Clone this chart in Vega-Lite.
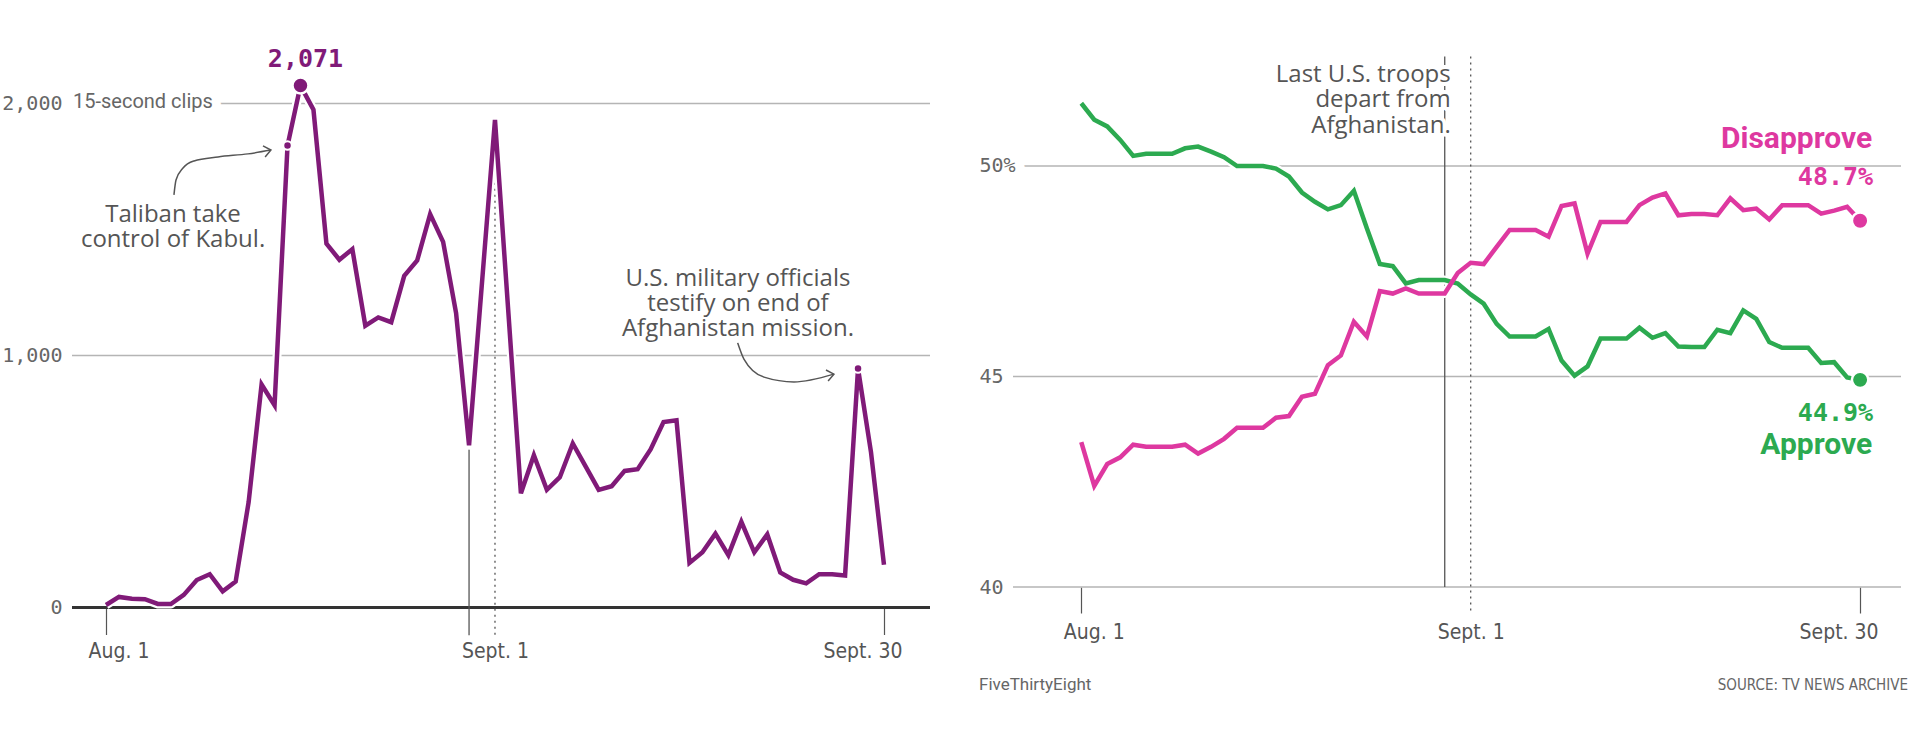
{
  "$schema": "https://vega.github.io/schema/vega-lite/v6.json",
  "background": "white",
  "padding": {"left": 1, "top": 45, "right": 0, "bottom": 0},
  "spacing": 47,
  "config": {"view": {"stroke": null}},
  "datasets": {
    "clips": [
      {"day": 0, "clips": 10}, {"day": 1, "clips": 42}, {"day": 2, "clips": 35}, {"day": 3, "clips": 33},
      {"day": 4, "clips": 14}, {"day": 5, "clips": 14}, {"day": 6, "clips": 50}, {"day": 7, "clips": 109},
      {"day": 8, "clips": 132}, {"day": 9, "clips": 64}, {"day": 10, "clips": 103}, {"day": 11, "clips": 418},
      {"day": 12, "clips": 885}, {"day": 13, "clips": 803}, {"day": 14, "clips": 1833}, {"day": 15, "clips": 2071},
      {"day": 16, "clips": 1975}, {"day": 17, "clips": 1444}, {"day": 18, "clips": 1380}, {"day": 19, "clips": 1422},
      {"day": 20, "clips": 1118}, {"day": 21, "clips": 1151}, {"day": 22, "clips": 1132}, {"day": 23, "clips": 1316},
      {"day": 24, "clips": 1377}, {"day": 25, "clips": 1561}, {"day": 26, "clips": 1451}, {"day": 27, "clips": 1168},
      {"day": 28, "clips": 644}, {"day": 29, "clips": 1290}, {"day": 30, "clips": 1935}, {"day": 31, "clips": 1195},
      {"day": 32, "clips": 453}, {"day": 33, "clips": 604}, {"day": 34, "clips": 467}, {"day": 35, "clips": 517},
      {"day": 36, "clips": 651}, {"day": 37, "clips": 559}, {"day": 38, "clips": 467}, {"day": 39, "clips": 481},
      {"day": 40, "clips": 542}, {"day": 41, "clips": 549}, {"day": 42, "clips": 627}, {"day": 43, "clips": 736},
      {"day": 44, "clips": 743}, {"day": 45, "clips": 177}, {"day": 46, "clips": 219}, {"day": 47, "clips": 293},
      {"day": 48, "clips": 208}, {"day": 49, "clips": 340}, {"day": 50, "clips": 219}, {"day": 51, "clips": 290},
      {"day": 52, "clips": 139}, {"day": 53, "clips": 110}, {"day": 54, "clips": 96}, {"day": 55, "clips": 132},
      {"day": 56, "clips": 132}, {"day": 57, "clips": 127}, {"day": 58, "clips": 948}, {"day": 59, "clips": 616},
      {"day": 60, "clips": 170}
    ],
    "approval": [
      {"day": 0, "series": "Approve", "pct": 51.49}, {"day": 1, "series": "Approve", "pct": 51.10},
      {"day": 2, "series": "Approve", "pct": 50.94}, {"day": 3, "series": "Approve", "pct": 50.62},
      {"day": 4, "series": "Approve", "pct": 50.24}, {"day": 5, "series": "Approve", "pct": 50.29},
      {"day": 6, "series": "Approve", "pct": 50.29}, {"day": 7, "series": "Approve", "pct": 50.29},
      {"day": 8, "series": "Approve", "pct": 50.42}, {"day": 9, "series": "Approve", "pct": 50.46},
      {"day": 10, "series": "Approve", "pct": 50.34}, {"day": 11, "series": "Approve", "pct": 50.21},
      {"day": 12, "series": "Approve", "pct": 50.00}, {"day": 13, "series": "Approve", "pct": 50.00},
      {"day": 14, "series": "Approve", "pct": 50.00}, {"day": 15, "series": "Approve", "pct": 49.94},
      {"day": 16, "series": "Approve", "pct": 49.75}, {"day": 17, "series": "Approve", "pct": 49.37},
      {"day": 18, "series": "Approve", "pct": 49.15}, {"day": 19, "series": "Approve", "pct": 48.97},
      {"day": 20, "series": "Approve", "pct": 49.07}, {"day": 21, "series": "Approve", "pct": 49.41},
      {"day": 22, "series": "Approve", "pct": 48.52}, {"day": 23, "series": "Approve", "pct": 47.67},
      {"day": 24, "series": "Approve", "pct": 47.62}, {"day": 25, "series": "Approve", "pct": 47.21},
      {"day": 26, "series": "Approve", "pct": 47.29}, {"day": 27, "series": "Approve", "pct": 47.29},
      {"day": 28, "series": "Approve", "pct": 47.29}, {"day": 29, "series": "Approve", "pct": 47.21},
      {"day": 30, "series": "Approve", "pct": 46.95}, {"day": 31, "series": "Approve", "pct": 46.73},
      {"day": 32, "series": "Approve", "pct": 46.25}, {"day": 33, "series": "Approve", "pct": 45.95},
      {"day": 34, "series": "Approve", "pct": 45.95}, {"day": 35, "series": "Approve", "pct": 45.95},
      {"day": 36, "series": "Approve", "pct": 46.13}, {"day": 37, "series": "Approve", "pct": 45.38},
      {"day": 38, "series": "Approve", "pct": 45.02}, {"day": 39, "series": "Approve", "pct": 45.24},
      {"day": 40, "series": "Approve", "pct": 45.90}, {"day": 41, "series": "Approve", "pct": 45.90},
      {"day": 42, "series": "Approve", "pct": 45.90}, {"day": 43, "series": "Approve", "pct": 46.16},
      {"day": 44, "series": "Approve", "pct": 45.92}, {"day": 45, "series": "Approve", "pct": 46.03},
      {"day": 46, "series": "Approve", "pct": 45.71}, {"day": 47, "series": "Approve", "pct": 45.70},
      {"day": 48, "series": "Approve", "pct": 45.70}, {"day": 49, "series": "Approve", "pct": 46.11},
      {"day": 50, "series": "Approve", "pct": 46.03}, {"day": 51, "series": "Approve", "pct": 46.57},
      {"day": 52, "series": "Approve", "pct": 46.37}, {"day": 53, "series": "Approve", "pct": 45.82},
      {"day": 54, "series": "Approve", "pct": 45.68}, {"day": 55, "series": "Approve", "pct": 45.68},
      {"day": 56, "series": "Approve", "pct": 45.68}, {"day": 57, "series": "Approve", "pct": 45.32},
      {"day": 58, "series": "Approve", "pct": 45.34}, {"day": 59, "series": "Approve", "pct": 44.98},
      {"day": 60, "series": "Approve", "pct": 44.92},
      {"day": 0, "series": "Disapprove", "pct": 43.44}, {"day": 1, "series": "Disapprove", "pct": 42.40},
      {"day": 2, "series": "Disapprove", "pct": 42.92}, {"day": 3, "series": "Disapprove", "pct": 43.08},
      {"day": 4, "series": "Disapprove", "pct": 43.38}, {"day": 5, "series": "Disapprove", "pct": 43.33},
      {"day": 6, "series": "Disapprove", "pct": 43.33}, {"day": 7, "series": "Disapprove", "pct": 43.33},
      {"day": 8, "series": "Disapprove", "pct": 43.38}, {"day": 9, "series": "Disapprove", "pct": 43.17},
      {"day": 10, "series": "Disapprove", "pct": 43.33}, {"day": 11, "series": "Disapprove", "pct": 43.52},
      {"day": 12, "series": "Disapprove", "pct": 43.78}, {"day": 13, "series": "Disapprove", "pct": 43.78},
      {"day": 14, "series": "Disapprove", "pct": 43.78}, {"day": 15, "series": "Disapprove", "pct": 44.02},
      {"day": 16, "series": "Disapprove", "pct": 44.06}, {"day": 17, "series": "Disapprove", "pct": 44.52},
      {"day": 18, "series": "Disapprove", "pct": 44.59}, {"day": 19, "series": "Disapprove", "pct": 45.27},
      {"day": 20, "series": "Disapprove", "pct": 45.50}, {"day": 21, "series": "Disapprove", "pct": 46.30},
      {"day": 22, "series": "Disapprove", "pct": 45.95}, {"day": 23, "series": "Disapprove", "pct": 47.03},
      {"day": 24, "series": "Disapprove", "pct": 46.97}, {"day": 25, "series": "Disapprove", "pct": 47.09},
      {"day": 26, "series": "Disapprove", "pct": 46.97}, {"day": 27, "series": "Disapprove", "pct": 46.97},
      {"day": 28, "series": "Disapprove", "pct": 46.97}, {"day": 29, "series": "Disapprove", "pct": 47.46},
      {"day": 30, "series": "Disapprove", "pct": 47.70}, {"day": 31, "series": "Disapprove", "pct": 47.67},
      {"day": 32, "series": "Disapprove", "pct": 48.08}, {"day": 33, "series": "Disapprove", "pct": 48.48},
      {"day": 34, "series": "Disapprove", "pct": 48.48}, {"day": 35, "series": "Disapprove", "pct": 48.48},
      {"day": 36, "series": "Disapprove", "pct": 48.32}, {"day": 37, "series": "Disapprove", "pct": 49.05},
      {"day": 38, "series": "Disapprove", "pct": 49.11}, {"day": 39, "series": "Disapprove", "pct": 47.92},
      {"day": 40, "series": "Disapprove", "pct": 48.67}, {"day": 41, "series": "Disapprove", "pct": 48.67},
      {"day": 42, "series": "Disapprove", "pct": 48.67}, {"day": 43, "series": "Disapprove", "pct": 49.07},
      {"day": 44, "series": "Disapprove", "pct": 49.25}, {"day": 45, "series": "Disapprove", "pct": 49.35},
      {"day": 46, "series": "Disapprove", "pct": 48.83}, {"day": 47, "series": "Disapprove", "pct": 48.86},
      {"day": 48, "series": "Disapprove", "pct": 48.86}, {"day": 49, "series": "Disapprove", "pct": 48.83},
      {"day": 50, "series": "Disapprove", "pct": 49.23}, {"day": 51, "series": "Disapprove", "pct": 48.95},
      {"day": 52, "series": "Disapprove", "pct": 48.99}, {"day": 53, "series": "Disapprove", "pct": 48.73},
      {"day": 54, "series": "Disapprove", "pct": 49.07}, {"day": 55, "series": "Disapprove", "pct": 49.07},
      {"day": 56, "series": "Disapprove", "pct": 49.07}, {"day": 57, "series": "Disapprove", "pct": 48.87},
      {"day": 58, "series": "Disapprove", "pct": 48.94}, {"day": 59, "series": "Disapprove", "pct": 49.03},
      {"day": 60, "series": "Disapprove", "pct": 48.70}
    ]
  },
  "hconcat": [
    {
      "width": 858,
      "height": 562.5,
      "layer": [
        {
          "data": {"values": [{"clips": 1000}, {"clips": 2000}]},
          "mark": {"type": "rule", "color": "#b5b5b5", "strokeWidth": 1.5},
          "encoding": {
            "y": {
              "field": "clips", "type": "quantitative",
              "scale": {"domain": [0, 2232], "nice": false},
              "axis": {
                "title": null, "values": [0, 1000, 2000], "format": ",d",
                "domain": false, "ticks": false, "tickSize": 0, "grid": false, "zindex": 1,
                "labelFont": "DejaVu Sans Mono", "labelFontSize": 20, "labelColor": "#666", "labelPadding": 10
              }
            }
          }
        },
        {
          "data": {"values": [{"clips": 0}]},
          "mark": {"type": "rule", "color": "#333", "strokeWidth": 3},
          "encoding": {
            "y": {"field": "clips", "type": "quantitative", "scale": {"domain": [0, 2232], "nice": false}}
          }
        },
        {
          "data": {"name": "clips"},
          "encoding": {
            "x": {
              "field": "day", "type": "quantitative",
              "scale": {"domain": [-2.622, 63.55], "nice": false, "zero": false},
              "axis": {
                "title": null, "values": [0, 30, 60],
                "labelExpr": "datum.value == 0 ? 'Aug. 1' : datum.value == 30 ? 'Sept. 1' : 'Sept. 30'",
                "domain": false, "grid": false, "tickSize": 27, "tickColor": "#555", "tickWidth": 1.2,
                "tickOpacity": {"condition": {"test": "datum.value == 30", "value": 0}, "value": 1},
                "labelFont": "DejaVu Sans Condensed", "labelFontSize": 21, "labelColor": "#555",
                "labelPadding": 6, "labelFlush": 100, "labelFlushOffset": 18
              }
            },
            "y": {
              "field": "clips", "type": "quantitative",
              "scale": {"domain": [0, 2232], "nice": false},
              "axis": {
                "title": null, "values": [0, 1000, 2000], "format": ",d",
                "domain": false, "ticks": false, "tickSize": 0, "grid": false, "zindex": 1,
                "labelFont": "DejaVu Sans Mono", "labelFontSize": 20, "labelColor": "#666", "labelPadding": 10
              }
            }
          },
          "layer": [
            {
              "data": {"values": [{"day": 28, "clips": 630, "clips2": -110}]},
              "mark": {"type": "rule", "color": "#555", "strokeWidth": 1.3},
              "encoding": {"y2": {"field": "clips2"}}
            },
            {
              "data": {"values": [{"day": 30, "clips": 1900, "clips2": -118}]},
              "mark": {"type": "rule", "color": "#555", "strokeWidth": 1.3, "strokeDash": [2, 4]},
              "encoding": {"y2": {"field": "clips2"}}
            },
            {
              "data": {"values": [{"day": -2.545, "clips": 2000, "note": "15-second clips"}]},
              "mark": {"type": "text", "align": "left", "baseline": "middle", "dy": -1, "font": "Roboto", "fontSize": 20,
                       "color": "white", "stroke": "white", "strokeWidth": 18, "strokeJoin": "round"},
              "encoding": {"text": {"field": "note"}}
            },
            {
              "data": {"values": [{"day": -2.545, "clips": 2000, "note": "15-second clips"}]},
              "mark": {"type": "text", "align": "left", "baseline": "middle", "dy": -1, "font": "Roboto", "fontSize": 20, "color": "#666"},
              "encoding": {"text": {"field": "note"}}
            },
            {
              "data": {"values": [
                {"arrow": "kabul", "day": 5.24, "clips": 1637}, {"arrow": "kabul", "day": 5.40, "clips": 1696},
                {"arrow": "kabul", "day": 5.94, "clips": 1744}, {"arrow": "kabul", "day": 6.79, "clips": 1772},
                {"arrow": "kabul", "day": 8.64, "clips": 1788}, {"arrow": "kabul", "day": 10.95, "clips": 1800},
                {"arrow": "kabul", "day": 12.72, "clips": 1815},
                {"arrow": "testify", "day": 48.72, "clips": 1050}, {"arrow": "testify", "day": 49.2, "clips": 986},
                {"arrow": "testify", "day": 50.75, "clips": 914}, {"arrow": "testify", "day": 53.06, "clips": 895},
                {"arrow": "testify", "day": 56.14, "clips": 926}
              ]},
              "mark": {"type": "line", "color": "#555", "strokeWidth": 1.5, "interpolate": "monotone"},
              "encoding": {"detail": {"field": "arrow"}}
            },
            {
              "data": {"values": [{"day": 12.72, "clips": 1815}, {"day": 56.14, "clips": 926}]},
              "mark": {"type": "point", "shape": "M -1 -0.8 L 0 0 L -1 0.8", "filled": false, "color": "#555",
                       "strokeWidth": 1.5, "size": 196, "angle": -11, "opacity": 1}
            },
            {
              "data": {"values": [
                {"day": 5.17, "clips": 1530, "note": "Taliban take\ncontrol of Kabul."},
                {"day": 48.74, "clips": 1276, "note": "U.S. military officials\ntestify on end of\nAfghanistan mission."}
              ]},
              "mark": {"type": "text", "align": "center", "baseline": "alphabetic", "lineBreak": "\n", "lineHeight": 25,
                       "font": "Open Sans", "fontSize": 24, "color": "#555"},
              "encoding": {"text": {"field": "note"}}
            },
            {"mark": {"type": "line", "color": "white", "strokeWidth": 9, "strokeJoin": "round"}},
            {"mark": {"type": "line", "color": "#801a78", "strokeWidth": 4.5}},
            {
              "transform": [{"filter": "datum.day == 14 || datum.day == 58"}],
              "mark": {"type": "point", "filled": true, "color": "#801a78", "size": 72, "stroke": "white", "strokeWidth": 2, "opacity": 1}
            },
            {
              "transform": [{"filter": "datum.day == 15"}],
              "mark": {"type": "point", "filled": true, "color": "#801a78", "size": 256, "stroke": "white", "strokeWidth": 2.5, "opacity": 1}
            },
            {
              "transform": [{"filter": "datum.day == 15"}],
              "mark": {"type": "text", "align": "center", "baseline": "alphabetic", "dx": 5, "dy": -19,
                       "font": "DejaVu Sans Mono", "fontWeight": "bold", "fontSize": 25, "color": "#801a78"},
              "encoding": {"text": {"field": "clips", "type": "quantitative", "format": ",d"}}
            }
          ]
        }
      ]
    },
    {
      "width": 888,
      "height": 542,
      "layer": [
        {
          "data": {"values": [{"pct": 40}, {"pct": 45}, {"pct": 50}]},
          "mark": {"type": "rule", "color": "#b5b5b5", "strokeWidth": 1.5},
          "encoding": {
            "y": {
              "field": "pct", "type": "quantitative",
              "scale": {"domain": [40, 52.874], "nice": false, "zero": false},
              "axis": {
                "title": null, "values": [40, 45, 50],
                "labelExpr": "datum.value == 50 ? '50%' : datum.label",
                "domain": false, "ticks": false, "tickSize": 0, "grid": false, "zindex": 1,
                "labelAlign": "left", "labelPadding": 34,
                "labelFont": "DejaVu Sans Mono", "labelFontSize": 20, "labelColor": "#666"
              }
            }
          }
        },
        {
          "data": {"name": "approval"},
          "encoding": {
            "x": {
              "field": "day", "type": "quantitative",
              "scale": {"domain": [-5.26, 63.15], "nice": false, "zero": false},
              "axis": {
                "title": null, "values": [0, 30, 60],
                "labelExpr": "datum.value == 0 ? 'Aug. 1' : datum.value == 30 ? 'Sept. 1' : 'Sept. 30'",
                "domain": false, "grid": false, "tickSize": 26, "tickColor": "#555", "tickWidth": 1.2,
                "tickOpacity": {"condition": {"test": "datum.value == 30", "value": 0}, "value": 1},
                "labelFont": "DejaVu Sans Condensed", "labelFontSize": 21, "labelColor": "#555",
                "labelPadding": 8, "labelFlush": 100, "labelFlushOffset": 18
              }
            },
            "y": {
              "field": "pct", "type": "quantitative",
              "scale": {"domain": [40, 52.874], "nice": false, "zero": false},
              "axis": {
                "title": null, "values": [40, 45, 50],
                "labelExpr": "datum.value == 50 ? '50%' : datum.label",
                "domain": false, "ticks": false, "tickSize": 0, "grid": false, "zindex": 1,
                "labelAlign": "left", "labelPadding": 34,
                "labelFont": "DejaVu Sans Mono", "labelFontSize": 20, "labelColor": "#666"
              }
            }
          },
          "layer": [
            {
              "data": {"values": [{"day": -5.26, "pct": 50, "note": "50%"}]},
              "mark": {"type": "text", "align": "left", "baseline": "middle", "dx": -34, "font": "DejaVu Sans Mono", "fontSize": 20,
                       "color": "white", "stroke": "white", "strokeWidth": 20, "strokeJoin": "round"},
              "encoding": {"text": {"field": "note"}}
            },
            {
              "data": {"values": [{"day": 28, "pct": 52.6, "pct2": 40}]},
              "mark": {"type": "rule", "color": "#555", "strokeWidth": 1.3},
              "encoding": {"y2": {"field": "pct2"}}
            },
            {
              "data": {"values": [{"day": 30, "pct": 52.6, "pct2": 39.38}]},
              "mark": {"type": "rule", "color": "#555", "strokeWidth": 1.3, "strokeDash": [2, 4]},
              "encoding": {"y2": {"field": "pct2"}}
            },
            {
              "data": {"values": [{"day": 28, "pct": 52.0, "note": "Last U.S. troops\ndepart from\nAfghanistan."}]},
              "mark": {"type": "text", "align": "right", "baseline": "alphabetic", "dx": 6, "lineBreak": "\n", "lineHeight": 25.5,
                       "font": "Open Sans", "fontSize": 24, "color": "white", "stroke": "white", "strokeWidth": 8, "strokeJoin": "round"},
              "encoding": {"text": {"field": "note"}}
            },
            {
              "data": {"values": [{"day": 28, "pct": 52.0, "note": "Last U.S. troops\ndepart from\nAfghanistan."}]},
              "mark": {"type": "text", "align": "right", "baseline": "alphabetic", "dx": 6, "lineBreak": "\n", "lineHeight": 25.5,
                       "font": "Open Sans", "fontSize": 24, "color": "#555"},
              "encoding": {"text": {"field": "note"}}
            },
            {
              "mark": {"type": "line", "color": "white", "strokeWidth": 9, "strokeJoin": "round"},
              "encoding": {"detail": {"field": "series"}}
            },
            {
              "mark": {"type": "line", "strokeWidth": 4.5},
              "encoding": {
                "color": {"field": "series", "type": "nominal",
                          "scale": {"domain": ["Approve", "Disapprove"], "range": ["#2caa50", "#de38a0"]}, "legend": null}
              }
            },
            {
              "transform": [{"filter": "datum.day == 60"}],
              "mark": {"type": "point", "filled": true, "size": 270, "stroke": "white", "strokeWidth": 2.5, "opacity": 1},
              "encoding": {
                "color": {"field": "series", "type": "nominal",
                          "scale": {"domain": ["Approve", "Disapprove"], "range": ["#2caa50", "#de38a0"]}, "legend": null}
              }
            },
            {
              "transform": [{"filter": "datum.day == 60 && datum.series == 'Disapprove'"}],
              "mark": {"type": "text", "align": "right", "baseline": "alphabetic", "dx": 12, "dy": -72.7,
                       "font": "Roboto", "fontWeight": "bold", "fontSize": 30, "color": "#de38a0"},
              "encoding": {"text": {"field": "series"}}
            },
            {
              "transform": [{"filter": "datum.day == 60 && datum.series == 'Disapprove'"}],
              "mark": {"type": "text", "align": "right", "baseline": "alphabetic", "dx": 13, "dy": -35.7,
                       "font": "DejaVu Sans Mono", "fontWeight": "bold", "fontSize": 25, "color": "#de38a0",
                       "text": {"expr": "format(datum.pct, '.1f') + '%'"}}
            },
            {
              "transform": [{"filter": "datum.day == 60 && datum.series == 'Approve'"}],
              "mark": {"type": "text", "align": "right", "baseline": "alphabetic", "dx": 13, "dy": 41,
                       "font": "DejaVu Sans Mono", "fontWeight": "bold", "fontSize": 25, "color": "#2caa50",
                       "text": {"expr": "format(datum.pct, '.1f') + '%'"}}
            },
            {
              "transform": [{"filter": "datum.day == 60 && datum.series == 'Approve'"}],
              "mark": {"type": "text", "align": "right", "baseline": "alphabetic", "dx": 12, "dy": 74,
                       "font": "Roboto", "fontWeight": "bold", "fontSize": 30, "color": "#2caa50"},
              "encoding": {"text": {"field": "series"}}
            },
            {
              "data": {"values": [{"day": -5.26, "pct": 40, "note": "FiveThirtyEight"}]},
              "mark": {"type": "text", "align": "left", "baseline": "alphabetic", "dx": -34, "dy": 103,
                       "font": "Roboto", "fontSize": 17, "color": "#666"},
              "encoding": {"text": {"field": "note"}}
            },
            {
              "data": {"values": [{"day": 63.15, "pct": 40, "note": "SOURCE: TV NEWS ARCHIVE"}]},
              "mark": {"type": "text", "align": "right", "baseline": "alphabetic", "dx": 7, "dy": 103,
                       "font": "DejaVu Sans Condensed", "fontSize": 15, "color": "#666"},
              "encoding": {"text": {"field": "note"}}
            }
          ]
        }
      ]
    }
  ]
}
